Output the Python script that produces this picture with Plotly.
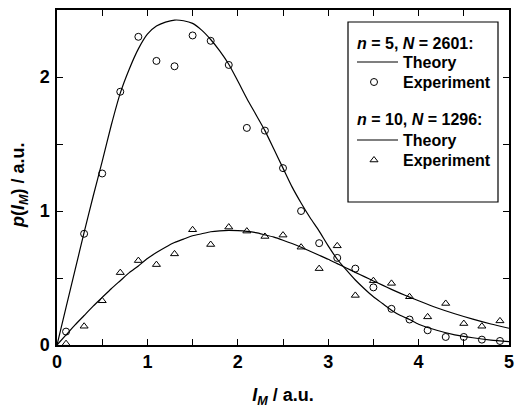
import plotly.graph_objects as go

# ---------------- data ----------------
x_exp = [0.1, 0.3, 0.5, 0.7, 0.9, 1.1, 1.3, 1.5, 1.7, 1.9, 2.1, 2.3, 2.5,
         2.7, 2.9, 3.1, 3.3, 3.5, 3.7, 3.9, 4.1, 4.3, 4.5, 4.7, 4.9]
p_exp_n5 = [0.10, 0.83, 1.28, 1.89, 2.30, 2.12, 2.08, 2.31, 2.27, 2.09, 1.62, 1.60, 1.32,
            1.00, 0.76, 0.65, 0.57, 0.43, 0.27, 0.19, 0.11, 0.06, 0.06, 0.04, 0.03]
p_exp_n10 = [0.01, 0.14, 0.33, 0.54, 0.63, 0.60, 0.68, 0.86, 0.75, 0.88, 0.85, 0.81, 0.82,
             0.73, 0.57, 0.74, 0.37, 0.48, 0.46, 0.36, 0.21, 0.31, 0.16, 0.14, 0.18]

x_th = [0.0, 0.1, 0.2, 0.3, 0.4, 0.5, 0.6, 0.7, 0.8, 0.9, 1.0, 1.1, 1.2, 1.3, 1.4,
        1.5, 1.6, 1.7, 1.8, 1.9, 2.0, 2.1, 2.2, 2.3, 2.4, 2.5, 2.6, 2.7, 2.8, 2.9,
        3.0, 3.1, 3.2, 3.3, 3.4, 3.5, 3.6, 3.7, 3.8, 3.9, 4.0, 4.2, 4.4, 4.6, 4.8, 5.0]
p_th_n5 = [0.0, 0.28, 0.56, 0.84, 1.11, 1.37, 1.64, 1.88, 2.06, 2.21, 2.32, 2.38, 2.41, 2.425, 2.42,
           2.40, 2.35, 2.28, 2.195, 2.095, 1.97, 1.84, 1.72, 1.60, 1.46, 1.32, 1.18, 1.06, 0.95, 0.85,
           0.74, 0.64, 0.56, 0.485, 0.42, 0.36, 0.31, 0.26, 0.22, 0.19, 0.155, 0.11, 0.076, 0.054, 0.037, 0.025]
p_th_n10 = [0.0, 0.075, 0.15, 0.22, 0.29, 0.355, 0.42, 0.48, 0.54, 0.59, 0.645, 0.69, 0.73, 0.765, 0.79,
            0.815, 0.83, 0.845, 0.852, 0.855, 0.853, 0.848, 0.838, 0.822, 0.805, 0.782, 0.757, 0.73, 0.70, 0.67,
            0.64, 0.607, 0.575, 0.542, 0.51, 0.478, 0.447, 0.415, 0.385, 0.357, 0.33, 0.278, 0.233, 0.193, 0.157, 0.125]

x_tickvals = [0, 0.5, 1, 1.5, 2, 2.5, 3, 3.5, 4, 4.5, 5]
x_ticktext = ["0", "", "1", "", "2", "", "3", "", "4", "", "5"]
y_tickvals = [0, 0.5, 1, 1.5, 2]
y_ticktext = ["0", "", "1", "", "2"]

group1_title = "<i>n</i> = 5, <i>N</i> = 2601:"
group2_title = "<i>n</i> = 10, <i>N</i> = 1296:"
label_theory = "Theory"
label_exp = "Experiment"
x_title = "<i>I<sub>M</sub></i> / a.u."
y_title = "<i>p</i>(<i>I<sub>M</sub></i>) / a.u."

FONT = "Liberation Sans, Arial, Helvetica, sans-serif"
W, H = 515, 408
ML, MR, MT, MB = 57, 6, 10, 63
PW, PH = W - ML - MR, H - MT - MB


def fx(px):  # pixel -> paper x
    return (px - ML) / PW


def fy(py):  # pixel -> paper y
    return (MT + PH - py) / PH


circle_marker = dict(symbol="circle-open", size=7, color="black", line=dict(width=1, color="black"))
tri_marker = dict(symbol="triangle-up-open", size=7, color="black", line=dict(width=1, color="black"))
th_line = dict(color="black", width=1.2, shape="spline", smoothing=0.6)

fig = go.Figure()
fig.add_trace(go.Scatter(x=x_th, y=p_th_n5, mode="lines", line=th_line, showlegend=False))
fig.add_trace(go.Scatter(x=x_exp, y=p_exp_n5, mode="markers", marker=circle_marker, showlegend=False))
fig.add_trace(go.Scatter(x=x_th, y=p_th_n10, mode="lines", line=th_line, showlegend=False))
fig.add_trace(go.Scatter(x=x_exp, y=p_exp_n10, mode="markers", marker=tri_marker, showlegend=False,
                         cliponaxis=False))

# ---- legend (drawn by hand, positions in paper fractions) ----
sym_x = fx(374)
fig.add_trace(go.Scatter(x=[sym_x], y=[fy(82)], xaxis="x2", yaxis="y2", mode="markers",
                         marker=circle_marker, showlegend=False, hoverinfo="skip"))
fig.add_trace(go.Scatter(x=[sym_x], y=[fy(160)], xaxis="x2", yaxis="y2", mode="markers",
                         marker=tri_marker, showlegend=False, hoverinfo="skip"))

leg_font = dict(size=16, family=FONT, weight="bold", color="black")
annotations = []
for text, px, py in [(group1_title, 356, 43), (label_theory, 402, 62), (label_exp, 402, 82),
                     (group2_title, 356, 120), (label_theory, 402, 140), (label_exp, 402, 160)]:
    annotations.append(dict(text=text, x=fx(px), y=fy(py), xref="paper", yref="paper",
                            xanchor="left", yanchor="middle", showarrow=False, font=leg_font,
                            borderpad=0))
# y-axis title placed as a rotated annotation
annotations.append(dict(text=y_title, x=fx(20), y=fy(185), xref="paper", yref="paper",
                        xanchor="center", yanchor="middle", textangle=-90, showarrow=False,
                        font=dict(size=18, family=FONT, weight="bold", color="black")))

shapes = [
    dict(type="rect", xref="paper", yref="paper", x0=fx(348), x1=fx(498), y0=fy(202), y1=fy(22),
         line=dict(color="black", width=1.2), fillcolor="rgba(0,0,0,0)"),
    dict(type="line", xref="paper", yref="paper", x0=fx(357), x1=fx(398), y0=fy(62), y1=fy(62),
         line=dict(color="black", width=1.2)),
    dict(type="line", xref="paper", yref="paper", x0=fx(357), x1=fx(398), y0=fy(140), y1=fy(140),
         line=dict(color="black", width=1.2)),
]

axis_common = dict(
    showline=True, linecolor="black", linewidth=1.5, mirror="ticks",
    ticks="inside", ticklen=6, tickwidth=1.2, tickcolor="black",
    showgrid=False, zeroline=False, automargin=False,
    tickfont=dict(size=18, family=FONT, weight="bold", color="black"),
)

fig.update_layout(
    width=W, height=H,
    margin=dict(l=ML, r=MR, t=MT, b=MB),
    paper_bgcolor="white", plot_bgcolor="white",
    font=dict(family=FONT, color="black"),
    showlegend=False,
    xaxis=dict(range=[0, 5], tickvals=x_tickvals, ticktext=x_ticktext,
               title=dict(text=x_title, font=dict(size=18, family=FONT, weight="bold"), standoff=19),
               **axis_common),
    yaxis=dict(range=[0, 2.5], tickvals=y_tickvals, ticktext=y_ticktext, ticklabelstandoff=2,
               **axis_common),
    xaxis2=dict(overlaying="x", range=[0, 1], visible=False, fixedrange=True),
    yaxis2=dict(overlaying="y", range=[0, 1], visible=False, fixedrange=True),
    annotations=annotations,
    shapes=shapes,
)

fig.write_html("out.html", config={"displayModeBar": False},
               post_script="document.body.style.margin='0';document.body.style.overflow='hidden';")
